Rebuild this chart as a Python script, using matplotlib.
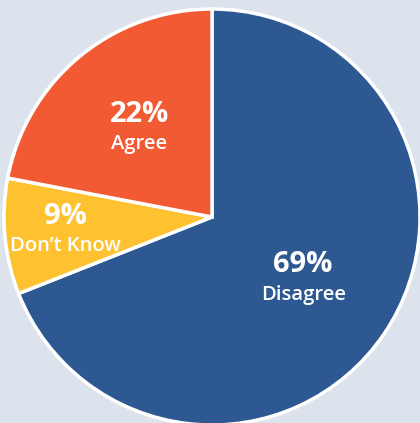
import numpy as np
import matplotlib.pyplot as plt

labels = ["Disagree", "Don\u2019t Know", "Agree"]
values = [69, 9, 22]
colors = ["#2d5891", "#fec231", "#f15a33"]
label_r = [0.53, 0.71, 0.55]

fig = plt.figure(figsize=(4.2, 4.23), dpi=100)
fig.patch.set_facecolor("#dde3ec")
ax = fig.add_axes([0, 0, 1, 1])
ax.set_facecolor("#dde3ec")

wedges, _ = ax.pie(values, colors=colors, startangle=90, counterclock=False,
                   radius=1.0, wedgeprops=dict(edgecolor="white", linewidth=2.5))

# centre at pixel (212, 217), radius 208 px
R = 208.0
ax.set_xlim(-212 / R, (420 - 212) / R)
ax.set_ylim(-(423 - 217) / R, 217 / R)
ax.set_aspect("equal")
ax.axis("off")

for w, lab, v, r in zip(wedges, labels, values, label_r):
    mid = np.deg2rad((w.theta1 + w.theta2) / 2)
    x, y = r * np.cos(mid), r * np.sin(mid)
    ax.text(x, y + 0.07, f"{v}%", ha="center", va="center", color="white",
            fontsize=21, fontweight="bold", family="Open Sans")
    ax.text(x, y - 0.075, lab, ha="center", va="center", color="white",
            fontsize=14.5, fontweight="semibold", family="Open Sans")

fig.savefig("out.png", dpi=100, facecolor=fig.get_facecolor())
